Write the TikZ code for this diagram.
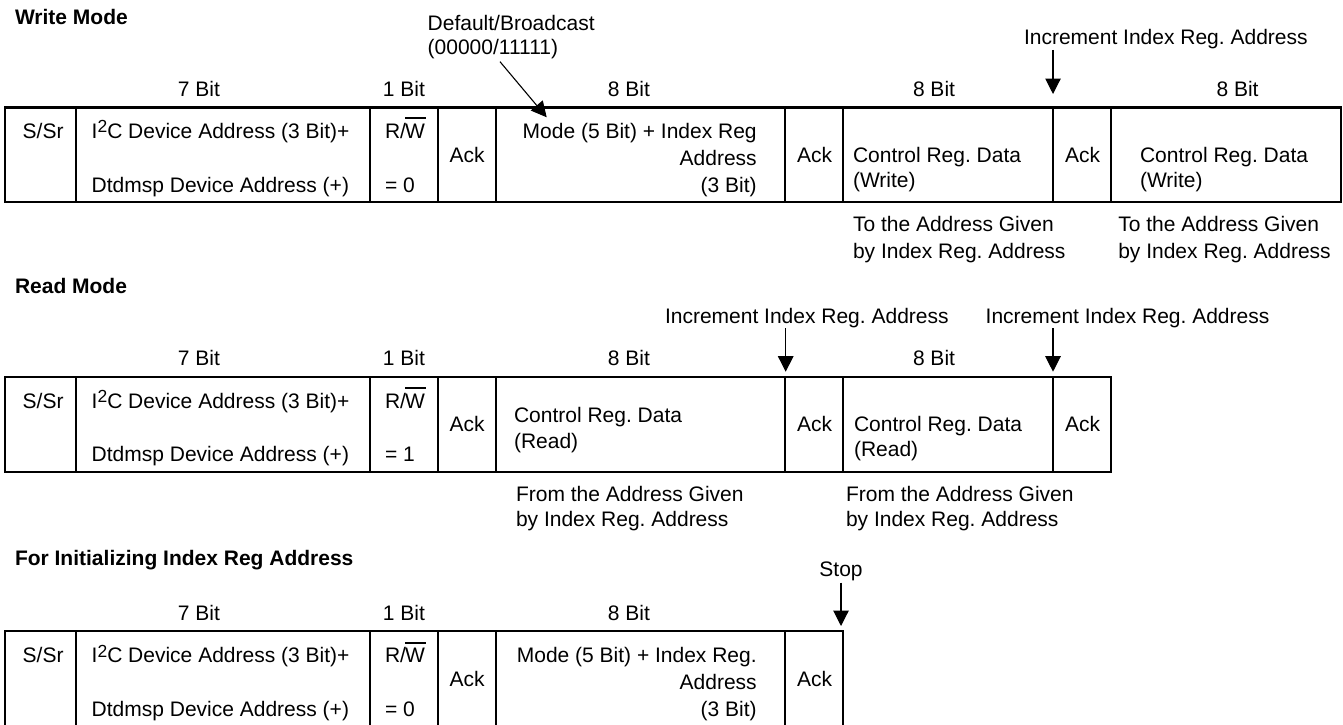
\documentclass[tikz,border=0pt]{standalone}
\usepackage{fontspec}
\setmainfont{Liberation Sans}
\usetikzlibrary{arrows.meta}
\frenchspacing
\newcommand\iic{I\raisebox{5.3pt}{\fontsize{17.5}{17.5}\selectfont 2}C}
\newcommand\rwbar{R/\kern-1pt\rlap{\rule[18.7pt]{20.5pt}{2.3pt}}W}
\begin{document}
\begin{tikzpicture}[x=1pt,y=-1pt,
  every node/.style={font=\fontsize{21}{25}\selectfont, inner sep=0pt, outer sep=0pt},
  cell/.style={draw, line width=2.2pt, rectangle, anchor=north west},
  lbl/.style={anchor=base west},
  ctr/.style={anchor=base},
  rgt/.style={anchor=base east},
  head/.style={anchor=base west, font=\fontsize{21}{25}\selectfont\bfseries},
  pointer/.style={line width=1.1pt, -{Triangle[length=15.5pt,width=15.5pt]}},
]
\useasboundingbox (0,0) rectangle (1343,725);

% ---------------- Write Mode ----------------
\node[head] (wmode) at (15,25) {Write Mode};
\node[lbl] (wdef1) at (427.7,30.7) {Default/Broadcast};
\node[lbl] (wdef2) at (427.7,55) {(00000/11111)};
\node[lbl] (winc) at (1024,45) {Increment Index Reg. Address};
\foreach \a/\b [count=\i] in {5/76,76/370,370/438,438/496,496/785,785/843,843/1053,1053/1111,1111/1341}
  \node[cell, minimum width={(\b-\a)*1pt}, minimum height=94.5pt] (w\i) at (\a,107.5) {};
\node[ctr] (wb7) at (199,96) {7 Bit};
\node[ctr] (wb1) at (404,96) {1 Bit};
\node[ctr] (wb8a) at (629,96) {8 Bit};
\node[ctr] (wb8b) at (934,96) {8 Bit};
\node[ctr] (wb8c) at (1237.5,96) {8 Bit};
\node[lbl] (wss) at (22.7,138) {S/Sr};
\node[lbl] (wi2c) at (91.7,138) {\iic{} Device Address (3 Bit)+};
\node[lbl] (wdtd) at (91.7,192) {Dtdmsp Device Address (+)};
\node[lbl] (wrw) at (385,138) {\rwbar};
\node[lbl] (weq) at (385,192) {= 0};
\node[ctr] (wack1) at (467,162) {Ack};
\node[rgt] (wmo1) at (756.7,138) {Mode (5 Bit) + Index Reg};
\node[rgt] (wmo2) at (756.7,165) {Address};
\node[rgt] (wmo3) at (756.7,192) {(3 Bit)};
\node[ctr] (wack2) at (814.5,162) {Ack};
\node[lbl] (wcr1) at (853,162) {Control Reg. Data};
\node[lbl] (wcr1b) at (853,187.5) {(Write)};
\node[ctr] (wack3) at (1082.5,162) {Ack};
\node[lbl] (wcr2) at (1140,162) {Control Reg. Data};
\node[lbl] (wcr2b) at (1140,187.5) {(Write)};
\node[lbl] (wto1) at (853,231.7) {To the Address Given};
\node[lbl] (wto1b) at (853,258) {by Index Reg. Address};
\node[lbl] (wto2) at (1118.3,231.7) {To the Address Given};
\node[lbl] (wto2b) at (1118.3,258) {by Index Reg. Address};
\coordinate (wdefs) at (500,61.7);
\coordinate (wdeft) at (546.7,117.3);
\draw[pointer] (wdefs) -- (wdeft);
\coordinate (wincs) at (1053,50);
\coordinate (winct) at (1053,94);
\draw[pointer] (wincs) -- (winct);

% ---------------- Read Mode ----------------
\node[head] (rmode) at (15,293) {Read Mode};
\node[lbl] (rinc1) at (665,323) {Increment Index Reg. Address};
\node[lbl] (rinc2) at (985.7,323) {Increment Index Reg. Address};
\foreach \a/\b [count=\i] in {5/76,76/370,370/438,438/496,496/785,785/843,843/1053,1053/1111}
  \node[cell, minimum width={(\b-\a)*1pt}, minimum height=95.6pt] (r\i) at (\a,376.7) {};
\node[ctr] (rb7) at (199,365.7) {7 Bit};
\node[ctr] (rb1) at (404,365.7) {1 Bit};
\node[ctr] (rb8a) at (629,365.7) {8 Bit};
\node[ctr] (rb8b) at (934,365.7) {8 Bit};
\node[lbl] (rss) at (22.7,408) {S/Sr};
\node[lbl] (ri2c) at (91.7,408) {\iic{} Device Address (3 Bit)+};
\node[lbl] (rdtd) at (91.7,461.7) {Dtdmsp Device Address (+)};
\node[lbl] (rrw) at (385,408) {\rwbar};
\node[lbl] (req) at (385,461.7) {= 1};
\node[ctr] (rack1) at (467,431) {Ack};
\node[lbl] (rcr1) at (514,422.7) {Control Reg. Data};
\node[lbl] (rcr1b) at (514,448) {(Read)};
\node[ctr] (rack2) at (814.5,431) {Ack};
\node[lbl] (rcr2) at (854,431) {Control Reg. Data};
\node[lbl] (rcr2b) at (854,456.5) {(Read)};
\node[ctr] (rack3) at (1082.5,431) {Ack};
\node[lbl] (rfr1) at (516,501) {From the Address Given};
\node[lbl] (rfr1b) at (516,526) {by Index Reg. Address};
\node[lbl] (rfr2) at (846,501) {From the Address Given};
\node[lbl] (rfr2b) at (846,526) {by Index Reg. Address};
\coordinate (rinc1s) at (785.7,328);
\coordinate (rinc1t) at (785.7,371.7);
\draw[pointer] (rinc1s) -- (rinc1t);
\coordinate (rinc2s) at (1053,328);
\coordinate (rinc2t) at (1053,371.7);
\draw[pointer] (rinc2s) -- (rinc2t);

% ---------------- Initializing ----------------
\node[head] (imode) at (15,565) {For Initializing Index Reg Address};
\node[ctr] (istop) at (841,576.7) {Stop};
\foreach \a/\b [count=\i] in {5/76,76/370,370/438,438/496,496/785,785/843}
  \node[cell, minimum width={(\b-\a)*1pt}, minimum height=96pt] (i\i) at (\a,631) {};
\node[ctr] (ib7) at (199,620) {7 Bit};
\node[ctr] (ib1) at (404,620) {1 Bit};
\node[ctr] (ib8) at (629,620) {8 Bit};
\node[lbl] (iss) at (22.7,662.7) {S/Sr};
\node[lbl] (ii2c) at (91.7,662.7) {\iic{} Device Address (3 Bit)+};
\node[lbl] (idtd) at (91.7,716.7) {Dtdmsp Device Address (+)};
\node[lbl] (irw) at (385,662.7) {\rwbar};
\node[lbl] (ieq) at (385,716.7) {= 0};
\node[ctr] (iack1) at (467,686) {Ack};
\node[rgt] (imo1) at (756.7,662.7) {Mode (5 Bit) + Index Reg.};
\node[rgt] (imo2) at (756.7,689) {Address};
\node[rgt] (imo3) at (756.7,716.7) {(3 Bit)};
\node[ctr] (iack2) at (814.5,686) {Ack};
\coordinate (istops) at (841,582.7);
\coordinate (istopt) at (841,626);
\draw[pointer] (istops) -- (istopt);
\end{tikzpicture}
\end{document}
